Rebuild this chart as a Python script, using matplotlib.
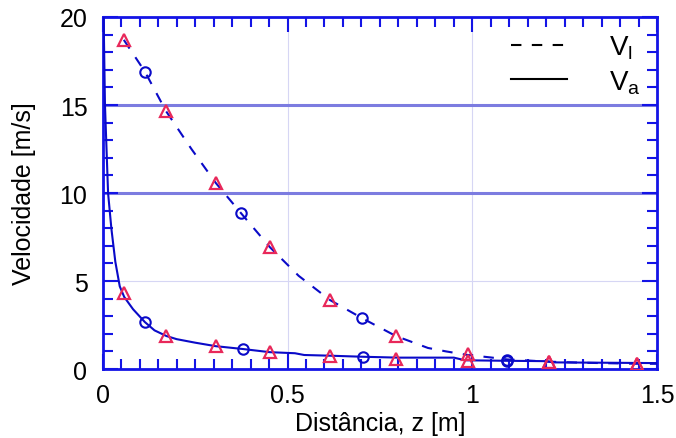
import matplotlib
matplotlib.use('Agg')
import matplotlib.pyplot as plt
from matplotlib.lines import Line2D
from matplotlib.ticker import MultipleLocator, FormatStrFormatter

plt.rcParams['font.family'] = ['Liberation Sans', 'DejaVu Sans']
plt.rcParams['mathtext.fontset'] = 'custom'
plt.rcParams['mathtext.rm'] = 'Liberation Sans'
plt.rcParams['mathtext.it'] = 'Liberation Sans'

# liquid velocity curve (dashed)
z_liq = [0.057, 0.114, 0.171, 0.24, 0.306, 0.374, 0.452, 0.53, 0.615, 0.701,
         0.793, 0.88, 0.93, 0.988, 1.05, 1.094, 1.208, 1.3, 1.446, 1.5]
v_liq = [18.7, 16.9, 14.66, 12.5, 10.57, 8.86, 6.93, 5.3, 3.92, 2.9,
         1.88, 1.2, 1.0, 0.8, 0.66, 0.55, 0.42, 0.36, 0.3, 0.3]

# air velocity curve (solid)
z_air = [0.002, 0.006, 0.0144, 0.0235, 0.034, 0.046, 0.058, 0.082, 0.114, 0.14,
         0.172, 0.2, 0.25, 0.306, 0.379, 0.452, 0.52, 0.545, 0.615, 0.704,
         0.8, 0.95, 0.98, 1.094, 1.2, 1.22, 1.5]
v_air = [20.5, 15.0, 10.0, 7.95, 6.1, 4.7, 4.1, 3.4, 2.67, 2.2,
         1.88, 1.7, 1.5, 1.3, 1.14, 0.96, 0.9, 0.8, 0.76, 0.7,
         0.65, 0.65, 0.5, 0.47, 0.45, 0.38, 0.34]

# triangle points
tri_z = [0.057, 0.171, 0.306, 0.452, 0.615, 0.793, 0.988, 1.208, 1.446,
         0.057, 0.171, 0.306, 0.452, 0.615, 0.793, 0.988, 1.208, 1.446]
tri_v = [18.7, 14.66, 10.57, 6.93, 3.92, 1.88, 0.85, 0.4, 0.28,
         4.3, 1.88, 1.3, 0.96, 0.74, 0.57, 0.47, 0.38, 0.28]

# circle points
circ_z = [0.114, 0.374, 0.701, 1.094, 0.114, 0.379, 0.704, 1.094]
circ_v = [16.9, 8.86, 2.9, 0.51, 2.67, 1.14, 0.68, 0.48]

blue = '#0a0ac8'
axis_blue = '#1414e6'
red = '#e8285a'

fig = plt.figure(figsize=(6.76, 4.39), dpi=100)
ax = fig.add_axes([0.152, 0.157, 0.82, 0.802])

ax.set_xlim(0, 1.5)
ax.set_ylim(0, 20)

# background grid
for gx in [0.5, 1.0]:
    ax.axvline(gx, color='#d6d6f4', lw=0.8, zorder=0)
ax.axhline(5, color='#d6d6f4', lw=0.8, zorder=0)
for gy in [10, 15]:
    ax.axhline(gy, color='#7c7ce0', lw=2.2, zorder=1)

ax.plot(z_liq, v_liq, color=blue, lw=1.5, linestyle=(0, (5, 5)), zorder=3)
ax.plot(z_air, v_air, color=blue, lw=1.5, zorder=3)
ax.plot(tri_z, tri_v, linestyle='none', marker='^', ms=8.5, mfc='none',
        mec=red, mew=1.6, zorder=4)
ax.plot(circ_z, circ_v, linestyle='none', marker='o', ms=7.5, mfc='none',
        mec=blue, mew=1.5, zorder=4)

ax.xaxis.set_major_locator(MultipleLocator(0.5))
ax.xaxis.set_minor_locator(MultipleLocator(0.05))
ax.yaxis.set_major_locator(MultipleLocator(5))
ax.yaxis.set_minor_locator(MultipleLocator(1))
ax.xaxis.set_major_formatter(FormatStrFormatter('%g'))
ax.tick_params(which='both', direction='in', top=True, right=True,
               color=axis_blue, width=1.5, labelsize=18)
ax.tick_params(axis='x', which='major', pad=10)
ax.tick_params(axis='y', which='major', pad=11)
ax.tick_params(which='major', length=11)
ax.tick_params(which='minor', length=7.5)
for sp in ax.spines.values():
    sp.set_color(axis_blue)
    sp.set_linewidth(2)

ax.set_xlabel('Distância, z [m]', fontsize=18, labelpad=3)
ax.set_ylabel('Velocidade [m/s]', fontsize=18, labelpad=17)

handles = [Line2D([], [], color='black', lw=1.5, linestyle=(0, (5, 5))),
           Line2D([], [], color='black', lw=1.5)]
ax.legend(handles, [r'V$_\mathrm{l}$', r'V$_\mathrm{a}$'], loc='upper right',
          frameon=False, fontsize=20, handlelength=2.0, handletextpad=1.5,
          labelspacing=0.25, borderaxespad=0.2)

fig.savefig('out.png', dpi=100)
